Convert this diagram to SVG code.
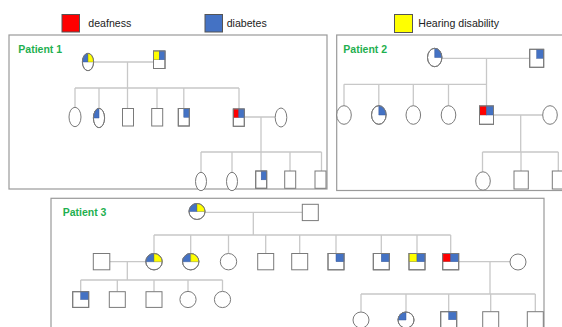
<svg xmlns="http://www.w3.org/2000/svg" width="562" height="327" viewBox="0 0 562 327">
<style>
.box{fill:none;stroke:#9a9a9a;stroke-width:1.2}
.ln{fill:none;stroke:#c8c8c8;stroke-width:1.3}
.n{fill:#fff;stroke:#7a7a7a;stroke-width:1}
.o{fill:none;stroke:#7a7a7a;stroke-width:1}
.b{fill:#4472c4;stroke:#3a5a9a;stroke-width:0.5}
.y{fill:#ffff00;stroke:#8a8a30;stroke-width:0.5}
.r{fill:#ff0000;stroke:#a03030;stroke-width:0.5}
.lg{stroke:#555;stroke-width:1}
.lt{font-family:"Liberation Sans",Arial,sans-serif;font-size:10.6px;fill:#222}
.pt{font-family:"Liberation Sans",Arial,sans-serif;font-size:10.5px;font-weight:bold;fill:#1fb050}
</style>
<rect width="562" height="327" fill="#fff"/>
<g id="legend">
<rect class="r lg" x="62" y="14.5" width="17.5" height="17.5"/>
<text class="lt" x="88.3" y="27.3">deafness</text>
<rect class="b lg" x="205" y="14.5" width="17.5" height="17.5"/>
<text class="lt" x="226.7" y="27.3">diabetes</text>
<rect class="y lg" x="394.5" y="14.5" width="18" height="18"/>
<text class="lt" x="418.3" y="27.3">Hearing disability</text>
</g>
<g id="frames">
<rect class="box" x="9" y="35" width="318" height="154"/>
<rect class="box" x="336.7" y="35" width="240" height="155.5"/>
<rect class="box" x="51" y="198.3" width="493" height="140"/>
<text class="pt" x="18.3" y="53">Patient 1</text>
<text class="pt" x="343.3" y="52.5">Patient 2</text>
<text class="pt" x="62.7" y="215.5">Patient 3</text>
</g>
<g id="connectors">
<!-- Patient 1 -->
<path class="ln" d="M93.5 62H153.5M127.5 62V88M75 88H239M75 88V107.3M99 88V108.3M127.5 88V108.5M157 88V108.5M183.8 88V108.5M239 88V109.3"/>
<path class="ln" d="M244.3 117H275M261 117V152M201 152H321.5M201 152V172M232 152V172M261 152V171M290 152V171M321.5 152V171"/>
<!-- Patient 2 -->
<path class="ln" d="M442 58.3H529.7M486.5 58.3V84.3M344 84.3H486.5M344 84.3V105.7M378.8 84.3V105.7M413.3 84.3V105.7M448.5 84.3V105.7M486.5 84.3V106"/>
<path class="ln" d="M493.5 115H542.7M520.7 115V152M482.5 152H558.3M482.5 152V171.8M521 152V171M558.3 152V171"/>
<!-- Patient 3 -->
<path class="ln" d="M205 212.3H302.3M253.3 212.3V235M154 235H450.7M154 235V253.5M190.7 235V253.5M228.5 235V253.5M265.7 235V253.5M299.7 235V253.5M336 235V253.5M381.3 235V253.5M417 235V253.5M450.7 235V253.5"/>
<path class="ln" d="M109.8 261.7H146M127.3 261.7V280M80.7 280H222.5M80.7 280V291.7M117.3 280V291.7M154 280V291.7M188 280V291.5M222.5 280V291.5"/>
<path class="ln" d="M458.7 261.7H510M490 261.7V294M361 294H535.3M361 294V311.8M406 294V311.8M448.7 294V311.7M490.7 294V311.7M535.3 294V311.7"/>
</g>
<!-- Patient 1 nodes -->
<g id="p1-mother">
<ellipse class="n" cx="88" cy="62" rx="5.6" ry="8.7"/>
<path class="b" d="M88 62H82.4A5.6 8.7 0 0 1 88 53.3Z"/>
<path class="y" d="M88 62V53.3A5.6 8.7 0 0 1 93.6 62Z"/>
<ellipse class="o" cx="88" cy="62" rx="5.6" ry="8.7"/>
</g>
<g id="p1-father">
<rect class="n" x="153.5" y="51" width="11.5" height="17.5"/>
<rect class="y" x="153.5" y="51" width="5.75" height="8.75"/>
<rect class="b" x="159.25" y="51" width="5.75" height="8.75"/>
<rect class="o" x="153.5" y="51" width="11.5" height="17.5"/>
</g>
<g id="p1-c1"><ellipse class="n" cx="75" cy="117" rx="6" ry="9.7"/></g>
<g id="p1-c2">
<ellipse class="n" cx="99" cy="118" rx="5.6" ry="9.7"/>
<path class="b" d="M99 118H93.4A5.6 9.7 0 0 1 99 108.3Z"/>
<ellipse class="o" cx="99" cy="118" rx="5.6" ry="9.7"/>
</g>
<g id="p1-c3"><rect class="n" x="122.5" y="108.5" width="11" height="17.5"/></g>
<g id="p1-c4"><rect class="n" x="151.7" y="108.5" width="11" height="17.5"/></g>
<g id="p1-c5">
<rect class="n" x="178.3" y="108.5" width="11" height="17.5"/>
<rect class="b" x="183.8" y="108.5" width="5.5" height="8.75"/>
<rect class="o" x="178.3" y="108.5" width="11" height="17.5"/>
</g>
<g id="p1-c6">
<rect class="n" x="233.3" y="109" width="11" height="17.3"/>
<rect class="r" x="233.3" y="109" width="5.5" height="8.6"/>
<rect class="b" x="238.8" y="109" width="5.5" height="8.6"/>
<rect class="o" x="233.3" y="109" width="11" height="17.3"/>
</g>
<g id="p1-c6-spouse"><ellipse class="n" cx="281" cy="117.5" rx="5.8" ry="9.5"/></g>
<g id="p1-g3-1"><ellipse class="n" cx="201" cy="181.5" rx="5.5" ry="9.2"/></g>
<g id="p1-g3-2"><ellipse class="n" cx="232" cy="181.5" rx="5.5" ry="9.2"/></g>
<g id="p1-g3-3">
<rect class="n" x="255.7" y="171" width="11" height="17.3"/>
<rect class="b" x="261.2" y="171" width="5.5" height="8.8"/>
<rect class="o" x="255.7" y="171" width="11" height="17.3"/>
</g>
<g id="p1-g3-4"><rect class="n" x="284.7" y="171" width="11" height="17.3"/></g>
<g id="p1-g3-5"><rect class="n" x="315" y="171" width="11" height="17.3"/></g>
<!-- Patient 2 nodes -->
<g id="p2-mother">
<ellipse class="n" cx="434.7" cy="57.5" rx="7.2" ry="9.2"/>
<path class="b" d="M434.7 57.5V48.3A7.2 9.2 0 0 1 441.9 57.5Z"/>
<ellipse class="o" cx="434.7" cy="57.5" rx="7.2" ry="9.2"/>
</g>
<g id="p2-father">
<rect class="n" x="529.7" y="49.3" width="14" height="18"/>
<rect class="b" x="536.7" y="49.3" width="7" height="9"/>
<rect class="o" x="529.7" y="49.3" width="14" height="18"/>
</g>
<g id="p2-c1"><ellipse class="n" cx="344" cy="115" rx="7.3" ry="9.3"/></g>
<g id="p2-c2">
<ellipse class="n" cx="378.8" cy="115" rx="7.3" ry="9.3"/>
<path class="b" d="M378.8 115V105.7A7.3 9.3 0 0 1 386.1 115Z"/>
<ellipse class="o" cx="378.8" cy="115" rx="7.3" ry="9.3"/>
</g>
<g id="p2-c3"><ellipse class="n" cx="413.3" cy="115" rx="7.3" ry="9.3"/></g>
<g id="p2-c4"><ellipse class="n" cx="448.5" cy="115" rx="7.3" ry="9.3"/></g>
<g id="p2-c5">
<rect class="n" x="479.5" y="106" width="14" height="18.3"/>
<rect class="r" x="479.5" y="106" width="7" height="9"/>
<rect class="b" x="486.5" y="106" width="7" height="9"/>
<rect class="o" x="479.5" y="106" width="14" height="18.3"/>
</g>
<g id="p2-c5-spouse"><ellipse class="n" cx="550" cy="115" rx="7.3" ry="9.3"/></g>
<g id="p2-g3-1"><ellipse class="n" cx="483" cy="181" rx="7.3" ry="9.2"/></g>
<g id="p2-g3-2"><rect class="n" x="514" y="171" width="14.3" height="18"/></g>
<g id="p2-g3-3"><rect class="n" x="552.3" y="171" width="14" height="18"/></g>
<!-- Patient 3 nodes -->
<g id="p3-mother">
<circle class="n" cx="197" cy="211.5" r="8"/>
<path class="b" d="M197 211.5H189A8 8 0 0 1 197 203.5Z"/>
<path class="y" d="M197 211.5V203.5A8 8 0 0 1 205 211.5Z"/>
<circle class="o" cx="197" cy="211.5" r="8"/>
</g>
<g id="p3-father"><rect class="n" x="302.3" y="204.3" width="16" height="16.3"/></g>
<g id="p3-c1-spouse"><rect class="n" x="93.3" y="253.5" width="16.5" height="16.3"/></g>
<g id="p3-c1">
<circle class="n" cx="154" cy="261.7" r="8.2"/>
<path class="b" d="M154 261.7H145.8A8.2 8.2 0 0 1 154 253.5Z"/>
<path class="y" d="M154 261.7V253.5A8.2 8.2 0 0 1 162.2 261.7Z"/>
<circle class="o" cx="154" cy="261.7" r="8.2"/>
</g>
<g id="p3-c2">
<circle class="n" cx="190.7" cy="261.7" r="8.2"/>
<path class="b" d="M190.7 261.7H182.5A8.2 8.2 0 0 1 190.7 253.5Z"/>
<path class="y" d="M190.7 261.7V253.5A8.2 8.2 0 0 1 198.9 261.7Z"/>
<circle class="o" cx="190.7" cy="261.7" r="8.2"/>
</g>
<g id="p3-c3"><circle class="n" cx="228.5" cy="261.7" r="8.2"/></g>
<g id="p3-c4"><rect class="n" x="257.7" y="253.5" width="16" height="16.3"/></g>
<g id="p3-c5"><rect class="n" x="291.7" y="253.5" width="16" height="16.3"/></g>
<g id="p3-c6">
<rect class="n" x="328" y="253.5" width="16" height="16.3"/>
<rect class="b" x="336" y="253.5" width="8" height="8.2"/>
<rect class="o" x="328" y="253.5" width="16" height="16.3"/>
</g>
<g id="p3-c7">
<rect class="n" x="373.3" y="253.5" width="16" height="16.3"/>
<rect class="b" x="381.3" y="253.5" width="8" height="8.2"/>
<rect class="o" x="373.3" y="253.5" width="16" height="16.3"/>
</g>
<g id="p3-c8">
<rect class="n" x="409" y="253.5" width="16" height="16.3"/>
<rect class="y" x="409" y="253.5" width="8" height="8.2"/>
<rect class="b" x="417" y="253.5" width="8" height="8.2"/>
<rect class="o" x="409" y="253.5" width="16" height="16.3"/>
</g>
<g id="p3-c9">
<rect class="n" x="442.7" y="253.5" width="16" height="16.3"/>
<rect class="r" x="442.7" y="253.5" width="8" height="8.2"/>
<rect class="b" x="450.7" y="253.5" width="8" height="8.2"/>
<rect class="o" x="442.7" y="253.5" width="16" height="16.3"/>
</g>
<g id="p3-c9-spouse"><circle class="n" cx="518" cy="262" r="8"/></g>
<g id="p3-l1">
<rect class="n" x="72.7" y="291.7" width="16" height="15.7"/>
<rect class="b" x="80.7" y="291.7" width="8" height="7.8"/>
<rect class="o" x="72.7" y="291.7" width="16" height="15.7"/>
</g>
<g id="p3-l2"><rect class="n" x="109.3" y="291.7" width="16" height="15.7"/></g>
<g id="p3-l3"><rect class="n" x="146" y="291.7" width="16" height="15.7"/></g>
<g id="p3-l4"><circle class="n" cx="188" cy="299.5" r="8.1"/></g>
<g id="p3-l5"><circle class="n" cx="222.5" cy="299.5" r="8.1"/></g>
<g id="p3-r1"><circle class="n" cx="361" cy="320" r="8"/></g>
<g id="p3-r2">
<circle class="n" cx="406" cy="320" r="8"/>
<path class="b" d="M406 320H398A8 8 0 0 1 406 312Z"/>
<circle class="o" cx="406" cy="320" r="8"/>
</g>
<g id="p3-r3">
<rect class="n" x="440.7" y="311.7" width="16" height="16"/>
<rect class="b" x="448.7" y="311.7" width="8" height="8"/>
<rect class="o" x="440.7" y="311.7" width="16" height="16"/>
</g>
<g id="p3-r4"><rect class="n" x="482.7" y="311.7" width="16" height="16"/></g>
<g id="p3-r5"><rect class="n" x="527.3" y="311.7" width="16" height="16"/></g>
</svg>
